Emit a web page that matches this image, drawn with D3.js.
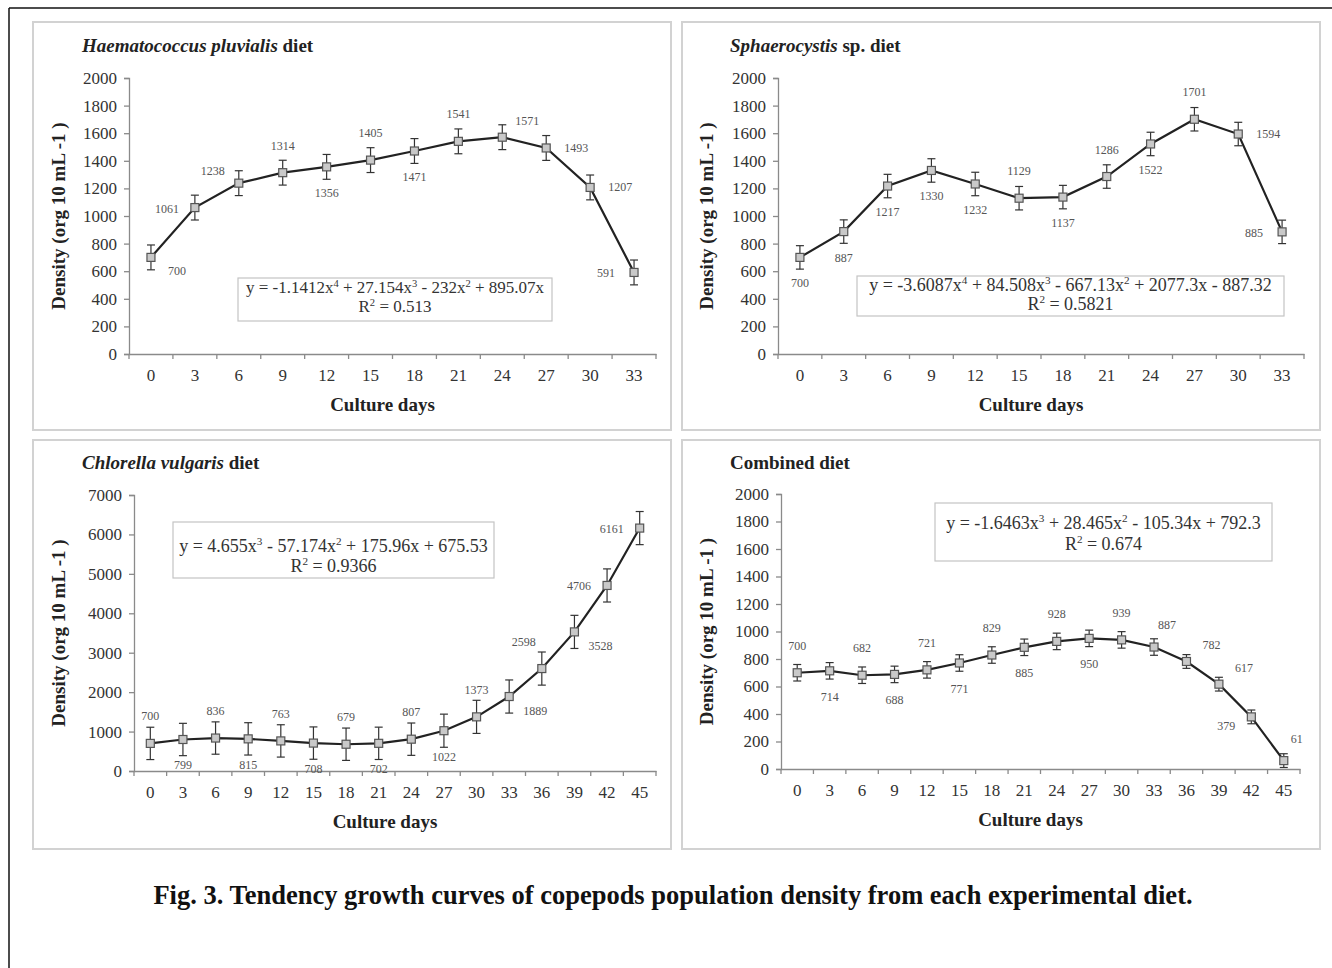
<!DOCTYPE html>
<html><head><meta charset="utf-8">
<script src="https://cdn.jsdelivr.net/npm/d3@7"></script>
<style>body{margin:0;background:#fff} svg{display:block}</style>
</head><body>
<script>
// ---------- DATA ----------
const daysShort = ["0","3","6","9","12","15","18","21","24","27","30","33"];
const daysLong  = ["0","3","6","9","12","15","18","21","24","27","30","33","36","39","42","45"];

const hpValues = [700,1061,1238,1314,1356,1405,1471,1541,1571,1493,1207,591];
const hpErrors = [90,90,90,90,90,90,90,90,90,90,90,90];
const hpLabelPos = ["br","l","lt","t","b","t","b","t","rt","r","r","l"];

const spValues = [700,887,1217,1330,1232,1129,1137,1286,1522,1701,1594,885];
const spErrors = [85,85,85,85,85,85,85,85,85,85,85,85];
const spLabelPos = ["b","b","b","b","b","t","b","t","b","t","r","l"];

const cvValues = [700,799,836,815,763,708,679,702,807,1022,1373,1889,2598,3528,4706,6161];
const cvErrors = [410,410,410,410,410,410,410,410,410,420,420,420,420,420,420,420];
const cvLabelPos = ["t","b","t","b","t","b","t","b","t","b","t","br","tl","br","l","l"];

const cbValues = [700,714,682,688,721,771,829,885,928,950,939,887,782,617,379,61];
const cbErrors = [60,60,60,60,60,60,60,60,60,60,60,60,50,50,50,50];
const cbLabelPos = ["t","b","t","b","t","b","t","b","t","b","t","tr","rt","rt","bl","tr"];

const yTicks2000 = [0,200,400,600,800,1000,1200,1400,1600,1800,2000];
const yTicks7000 = [0,1000,2000,3000,4000,5000,6000,7000];

const eqHp = ["y = -1.1412x^4 + 27.154x^3 - 232x^2 + 895.07x", "R^2 = 0.513"];
const eqSp = ["y = -3.6087x^4 + 84.508x^3 - 667.13x^2 + 2077.3x - 887.32", "R^2 = 0.5821"];
const eqCv = ["y = 4.655x^3 - 57.174x^2 + 175.96x + 675.53", "R^2 = 0.9366"];
const eqCb = ["y = -1.6463x^3 + 28.465x^2 - 105.34x + 792.3", "R^2 = 0.674"];

const yTitle = "Density (org 10 mL -1 )";
const xTitle = "Culture days";
const caption = "Fig. 3. Tendency growth curves of copepods population density from each experimental diet.";

// ---------- DRAW ----------
const W = 1332, H = 968;
const FONT = "'Liberation Serif','Times New Roman',serif";
const svg = d3.select("body").append("svg").attr("width", W).attr("height", H)
  .style("font-family", FONT);
svg.append("rect").attr("width", W).attr("height", H).attr("fill", "#fff");
// outer frame (top + left)
svg.append("line").attr("x1", 9).attr("y1", 8).attr("x2", W).attr("y2", 8).attr("stroke", "#111").attr("stroke-width", 1.5);
svg.append("line").attr("x1", 9).attr("y1", 8).attr("x2", 9).attr("y2", H).attr("stroke", "#111").attr("stroke-width", 1.5);

const offsets = {
  t: [0, -27], b: [0, 26], l: [-28, 1], r: [30, 0],
  tr: [13, -22], rt: [25, -16], br: [26, 14], bl: [-25, 9],
  tl: [-18, -27], lt: [-26, -12]
};

function addEqLine(sel, str, fs) {
  const parts = str.split(/\^(\d)/);
  const up = Math.round(fs * 0.38);
  let pending = 0;
  parts.forEach((p, i) => {
    if (p === "") return;
    if (i % 2 === 1) {
      sel.append("tspan").attr("font-size", "0.62em").attr("dy", -up + pending).text(p);
      pending = up;
    } else {
      const ts = sel.append("tspan").text(p);
      if (pending) ts.attr("dy", pending);
      pending = 0;
    }
  });
}

function drawPanel(c) {
  const g = svg.append("g");
  g.append("rect").attr("x", c.box[0]).attr("y", c.box[1]).attr("width", c.box[2]).attr("height", c.box[3])
    .attr("fill", "none").attr("stroke", "#d2d2d2").attr("stroke-width", 2);

  const x = d3.scaleBand().domain(c.days).range([c.x0, c.x1]).padding(0);
  const y = d3.scaleLinear().domain([0, c.yMax]).range([c.yb, c.yt]);

  // y axis
  const ya = g.append("g").attr("transform", `translate(${c.x0},0)`)
    .call(d3.axisLeft(y).tickValues(c.yTicks).tickSize(5).tickPadding(7).tickFormat(d3.format("d")));
  ya.select(".domain").attr("stroke", "#8a8a8a").attr("stroke-width", 1.3);
  ya.selectAll(".tick line").attr("stroke", "#8a8a8a").attr("stroke-width", 1.3);
  ya.selectAll(".tick text").attr("font-family", FONT).attr("font-size", 17).attr("fill", "#333");

  // x axis
  const xa = g.append("g").attr("transform", `translate(0,${c.yb})`)
    .call(d3.axisBottom(x).tickSize(0).tickPadding(15));
  xa.select(".domain").attr("stroke", "#8a8a8a").attr("stroke-width", 1.3);
  xa.selectAll(".tick text").attr("font-family", FONT).attr("font-size", 17).attr("fill", "#333");
  // boundary ticks
  const bounds = c.days.map(d => x(d)).concat([c.x1]);
  xa.selectAll(".btick").data(bounds).join("line").attr("class", "btick")
    .attr("x1", d => d).attr("x2", d => d).attr("y1", 0).attr("y2", 5)
    .attr("stroke", "#8a8a8a").attr("stroke-width", 1.3);

  const cx = d => x(d) + x.bandwidth() / 2;
  const pts = c.days.map((d, i) => ({ d, v: c.values[i], e: c.errors[i], p: c.labelPos[i] }));

  // error bars
  const eb = g.append("g").attr("stroke", "#333").attr("stroke-width", 1.2);
  pts.forEach(o => {
    const xx = cx(o.d);
    eb.append("line").attr("x1", xx).attr("x2", xx).attr("y1", y(o.v - o.e)).attr("y2", y(o.v + o.e));
    eb.append("line").attr("x1", xx - 4).attr("x2", xx + 4).attr("y1", y(o.v - o.e)).attr("y2", y(o.v - o.e));
    eb.append("line").attr("x1", xx - 4).attr("x2", xx + 4).attr("y1", y(o.v + o.e)).attr("y2", y(o.v + o.e));
  });

  // line
  g.append("path").datum(pts).attr("fill", "none").attr("stroke", "#222").attr("stroke-width", 2.2)
    .attr("d", d3.line().x(o => cx(o.d)).y(o => y(o.v)));

  // markers
  g.selectAll(".mk").data(pts).join("rect").attr("class", "mk")
    .attr("x", o => cx(o.d) - 4).attr("y", o => y(o.v) - 4).attr("width", 8).attr("height", 8)
    .attr("fill", "#c9c9c9").attr("stroke", "#555").attr("stroke-width", 1.2);

  // data labels
  g.selectAll(".dl").data(pts).join("text").attr("class", "dl")
    .attr("x", o => cx(o.d) + offsets[o.p][0])
    .attr("y", o => y(o.v) + offsets[o.p][1])
    .attr("text-anchor", "middle").attr("dominant-baseline", "central")
    .attr("font-size", 12).attr("fill", "#555").text(o => o.v);

  // panel title
  const t = g.append("text").attr("x", c.titleX).attr("y", c.titleY).attr("font-size", 19).attr("font-weight", "bold").attr("fill", "#222");
  if (c.titleIt) t.append("tspan").attr("font-style", "italic").text(c.titleIt);
  t.append("tspan").text(c.titleRest);

  // axis titles
  g.append("text").attr("x", (c.x0 + c.x1) / 2 - 10).attr("y", c.yb + 57).attr("text-anchor", "middle")
    .attr("font-size", 19).attr("font-weight", "bold").attr("fill", "#222").text(xTitle);
  g.append("text").attr("transform", `translate(${c.yTitleX},${(c.yb + c.yt) / 2}) rotate(-90)`)
    .attr("text-anchor", "middle").attr("dominant-baseline", "central")
    .attr("font-size", 19).attr("font-weight", "bold").attr("fill", "#222").text(yTitle);

  // equation box
  g.append("rect").attr("x", c.eqBox[0]).attr("y", c.eqBox[1]).attr("width", c.eqBox[2]).attr("height", c.eqBox[3])
    .attr("fill", "#fff").attr("stroke", "#c4c4c4").attr("stroke-width", 1.2);
  const ecx = c.eqBox[0] + c.eqBox[2] / 2;
  c.eq.forEach((ln, i) => {
    const tx = g.append("text").attr("x", ecx).attr("y", c.eqBox[1] + c.eqLineY[i]).attr("text-anchor", "middle")
      .attr("font-size", c.eqFs).attr("fill", "#333");
    addEqLine(tx, ln, c.eqFs);
  });
}

drawPanel({
  box: [33, 22, 638, 408], days: daysShort, values: hpValues, errors: hpErrors, labelPos: hpLabelPos,
  x0: 129, x1: 656, yb: 354, yt: 78, yMax: 2000, yTicks: yTicks2000,
  titleX: 82, titleY: 52, titleIt: "Haematococcus pluvialis", titleRest: " diet",
  yTitleX: 58, eq: eqHp, eqBox: [238, 278, 314, 43], eqLineY: [15, 34], eqFs: 17
});
drawPanel({
  box: [682, 22, 638, 408], days: daysShort, values: spValues, errors: spErrors, labelPos: spLabelPos,
  x0: 778, x1: 1304, yb: 354, yt: 78, yMax: 2000, yTicks: yTicks2000,
  titleX: 730, titleY: 52, titleIt: "Sphaerocystis", titleRest: " sp. diet",
  yTitleX: 706, eq: eqSp, eqBox: [857, 276, 427, 40], eqLineY: [15, 34], eqFs: 18
});
drawPanel({
  box: [33, 440, 638, 409], days: daysLong, values: cvValues, errors: cvErrors, labelPos: cvLabelPos,
  x0: 134, x1: 656, yb: 771, yt: 495, yMax: 7000, yTicks: yTicks7000,
  titleX: 82, titleY: 469, titleIt: "Chlorella vulgaris", titleRest: " diet",
  yTitleX: 58, eq: eqCv, eqBox: [173, 522, 321, 56], eqLineY: [30, 50], eqFs: 18
});
drawPanel({
  box: [682, 440, 638, 409], days: daysLong, values: cbValues, errors: cbErrors, labelPos: cbLabelPos,
  x0: 781, x1: 1300, yb: 769, yt: 494, yMax: 2000, yTicks: yTicks2000,
  titleX: 730, titleY: 469, titleIt: "", titleRest: "Combined diet",
  yTitleX: 706, eq: eqCb, eqBox: [935, 503, 337, 58], eqLineY: [26, 47], eqFs: 18
});

svg.append("text").attr("x", 673).attr("y", 904).attr("text-anchor", "middle")
  .attr("font-size", 26.5).attr("font-weight", "bold").attr("fill", "#111").text(caption);
</script>
</body></html>
